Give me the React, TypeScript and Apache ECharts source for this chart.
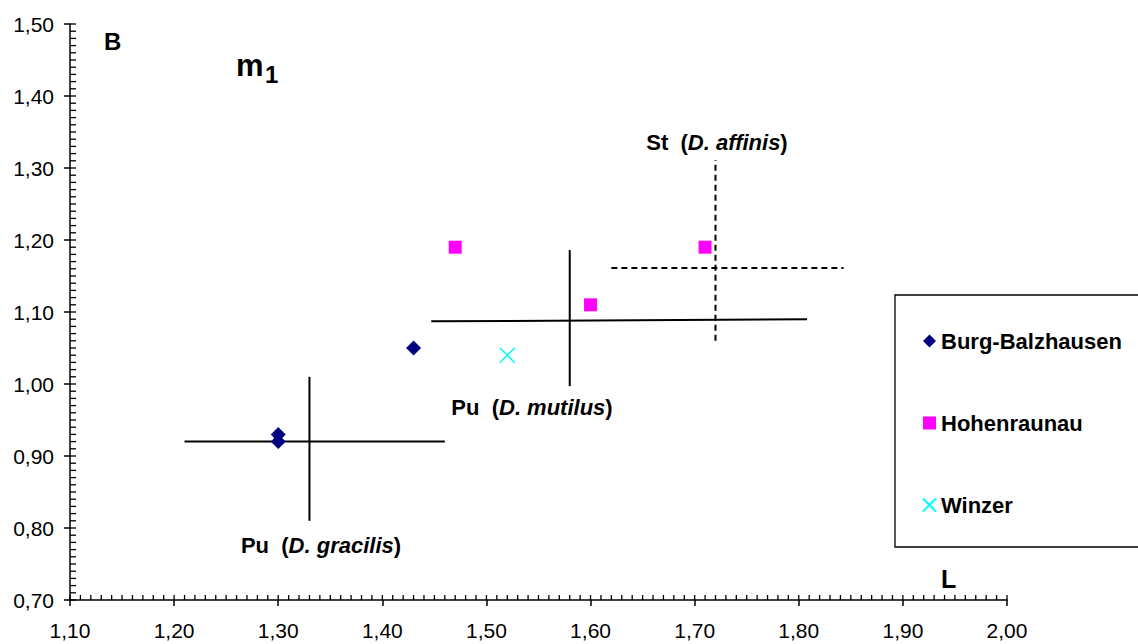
import React, { useEffect, useRef } from "react";
import * as echarts from "echarts";

const FONT = "'Liberation Sans', Arial, sans-serif";

// Scatter data
const burgX = [1.3, 1.3, 1.43];
const burgY = [0.93, 0.92, 1.05];
const hohenX = [1.47, 1.6, 1.71];
const hohenY = [1.19, 1.11, 1.19];
const winzerX = [1.52];
const winzerY = [1.04];

// Cross lines (ranges) as [x, y] endpoints
const gracilisH = [[1.21, 0.92], [1.46, 0.92]];
const gracilisV = [[1.33, 0.81], [1.33, 1.01]];
const mutilusH = [[1.447, 1.087], [1.808, 1.09]];
const mutilusV = [[1.58, 0.997], [1.58, 1.186]];
const affinisH = [[1.62, 1.161], [1.843, 1.161]];
const affinisV = [[1.72, 1.06], [1.72, 1.311]];

const xMin = 1.1;
const xMax = 2.0;
const yMin = 0.7;
const yMax = 1.5;
const step = 0.1;
const minorStep = 0.01;

const seriesNames = ["Burg-Balzhausen", "Hohenraunau", "Winzer"];

const fmt = (v: number) => v.toFixed(2).replace(".", ",");
const zip = (xs: number[], ys: number[]) => xs.map((x, i) => [x, ys[i]]);

// axis decoration: minor tick positions (every 0.01)
const tickValues = (min: number, max: number) => {
  const out: number[] = [];
  const n = Math.round((max - min) / minorStep);
  for (let i = 0; i <= n; i++) out.push(+(min + i * minorStep).toFixed(2));
  return out;
};

export default function App() {
  const ref = useRef<HTMLDivElement>(null);
  useEffect(() => {
    if (!ref.current) return;
    const chart = echarts.init(ref.current, null, { renderer: "svg" });
    const lineSeries = (data: number[][], dashed: boolean) => ({
      type: "line",
      data,
      symbol: "none",
      silent: true,
      lineStyle: { color: "#000", width: 2, type: dashed ? [6, 4] : "solid" },
      z: 1,
    });
    const tickSeries = (vertical: boolean) => ({
      type: "custom",
      silent: true,
      clip: false,
      z: 2,
      data: vertical
        ? tickValues(xMin, xMax).map((v) => [v, yMin])
        : tickValues(yMin, yMax).map((v) => [xMin, v]),
      renderItem: (_params: any, api: any) => {
        const p = api.coord([api.value(0), api.value(1)]);
        const shape = vertical
          ? { x1: p[0], y1: p[1], x2: p[0], y2: p[1] - 5 }
          : { x1: p[0], y1: p[1], x2: p[0] + 6, y2: p[1] };
        return { type: "line", shape, style: { stroke: "#000", lineWidth: 1.3 } };
      },
    });
    const textRich = {
      a: { fontSize: 22, fontWeight: "bold", fontFamily: FONT, fill: "#000" },
      b: { fontSize: 22, fontWeight: "bold", fontStyle: "italic", fontFamily: FONT, fill: "#000" },
    };
    chart.setOption({
      animation: false,
      backgroundColor: "#fff",
      textStyle: { fontFamily: FONT },
      grid: { left: 70, right: 131, top: 24, bottom: 44, containLabel: false },
      xAxis: {
        type: "value",
        min: xMin,
        max: xMax,
        interval: step,
        axisLine: { show: true, onZero: false, lineStyle: { color: "#000", width: 1.5 } },
        axisTick: { show: true, inside: false, length: 6, lineStyle: { color: "#000", width: 1.5 } },
        axisLabel: { formatter: fmt, fontSize: 21, color: "#000", margin: 20, fontFamily: FONT },
        splitLine: { show: false },
      },
      yAxis: {
        type: "value",
        min: yMin,
        max: yMax,
        interval: step,
        axisLine: { show: true, onZero: false, lineStyle: { color: "#000", width: 1.5 } },
        axisTick: { show: true, inside: false, length: 6, lineStyle: { color: "#000", width: 1.5 } },
        axisLabel: { formatter: fmt, fontSize: 21, color: "#000", margin: 16, fontFamily: FONT },
        splitLine: { show: false },
      },
      legend: {
        orient: "vertical",
        left: 895,
        top: 295,
        data: seriesNames,
        selectedMode: false,
        itemWidth: 13,
        itemHeight: 13,
        itemGap: 60,
        padding: [35, 300, 31, 27],
        borderColor: "#000",
        borderWidth: 1.3,
        textStyle: { fontSize: 22, fontWeight: "bold", color: "#000", fontFamily: FONT },
      },
      series: [
        tickSeries(true),
        tickSeries(false),
        lineSeries(gracilisH, false),
        lineSeries(gracilisV, false),
        lineSeries(mutilusH, false),
        lineSeries(mutilusV, false),
        lineSeries(affinisH, true),
        lineSeries(affinisV, true),
        {
          name: seriesNames[0],
          type: "scatter",
          data: zip(burgX, burgY),
          symbol: "diamond",
          symbolSize: 15,
          itemStyle: { color: "#000080", opacity: 1 },
          z: 3,
        },
        {
          name: seriesNames[1],
          type: "scatter",
          data: zip(hohenX, hohenY),
          symbol: "rect",
          symbolSize: 13,
          itemStyle: { color: "#FF00FF", opacity: 1 },
          z: 3,
        },
        {
          name: seriesNames[2],
          type: "scatter",
          data: zip(winzerX, winzerY),
          symbol: "path://M0,0L10,10M10,0L0,10",
          symbolSize: 15,
          itemStyle: { color: "rgba(0,0,0,0)", borderColor: "#00FFFF", borderWidth: 1.5, opacity: 1 },
          z: 3,
        },
      ],
      graphic: [
        {
          type: "text",
          x: 104,
          y: 41,
          style: { text: "B", font: `bold 24px ${FONT}`, fill: "#000", verticalAlign: "middle" },
        },
        {
          type: "text",
          x: 236,
          y: 65,
          style: { text: "m", font: `bold 31px ${FONT}`, fill: "#000", verticalAlign: "middle" },
        },
        {
          type: "text",
          x: 265,
          y: 74,
          style: { text: "1", font: `bold 24px ${FONT}`, fill: "#000", verticalAlign: "middle" },
        },
        {
          type: "text",
          x: 941,
          y: 579,
          style: { text: "L", font: `bold 25px ${FONT}`, fill: "#000", verticalAlign: "middle" },
        },
        {
          type: "text",
          x: 717,
          y: 142,
          style: { text: "{a|St  (}{b|D. affinis}{a|)}", align: "center", verticalAlign: "middle", rich: textRich },
        },
        {
          type: "text",
          x: 532,
          y: 407,
          style: { text: "{a|Pu  (}{b|D. mutilus}{a|)}", align: "center", verticalAlign: "middle", rich: textRich },
        },
        {
          type: "text",
          x: 321,
          y: 545,
          style: { text: "{a|Pu  (}{b|D. gracilis}{a|)}", align: "center", verticalAlign: "middle", rich: textRich },
        },
      ],
    });
    return () => chart.dispose();
  }, []);
  return (
    <div
      ref={ref}
      style={{ position: "fixed", left: 0, top: 0, width: 1138, height: 644, background: "#fff" }}
    />
  );
}
